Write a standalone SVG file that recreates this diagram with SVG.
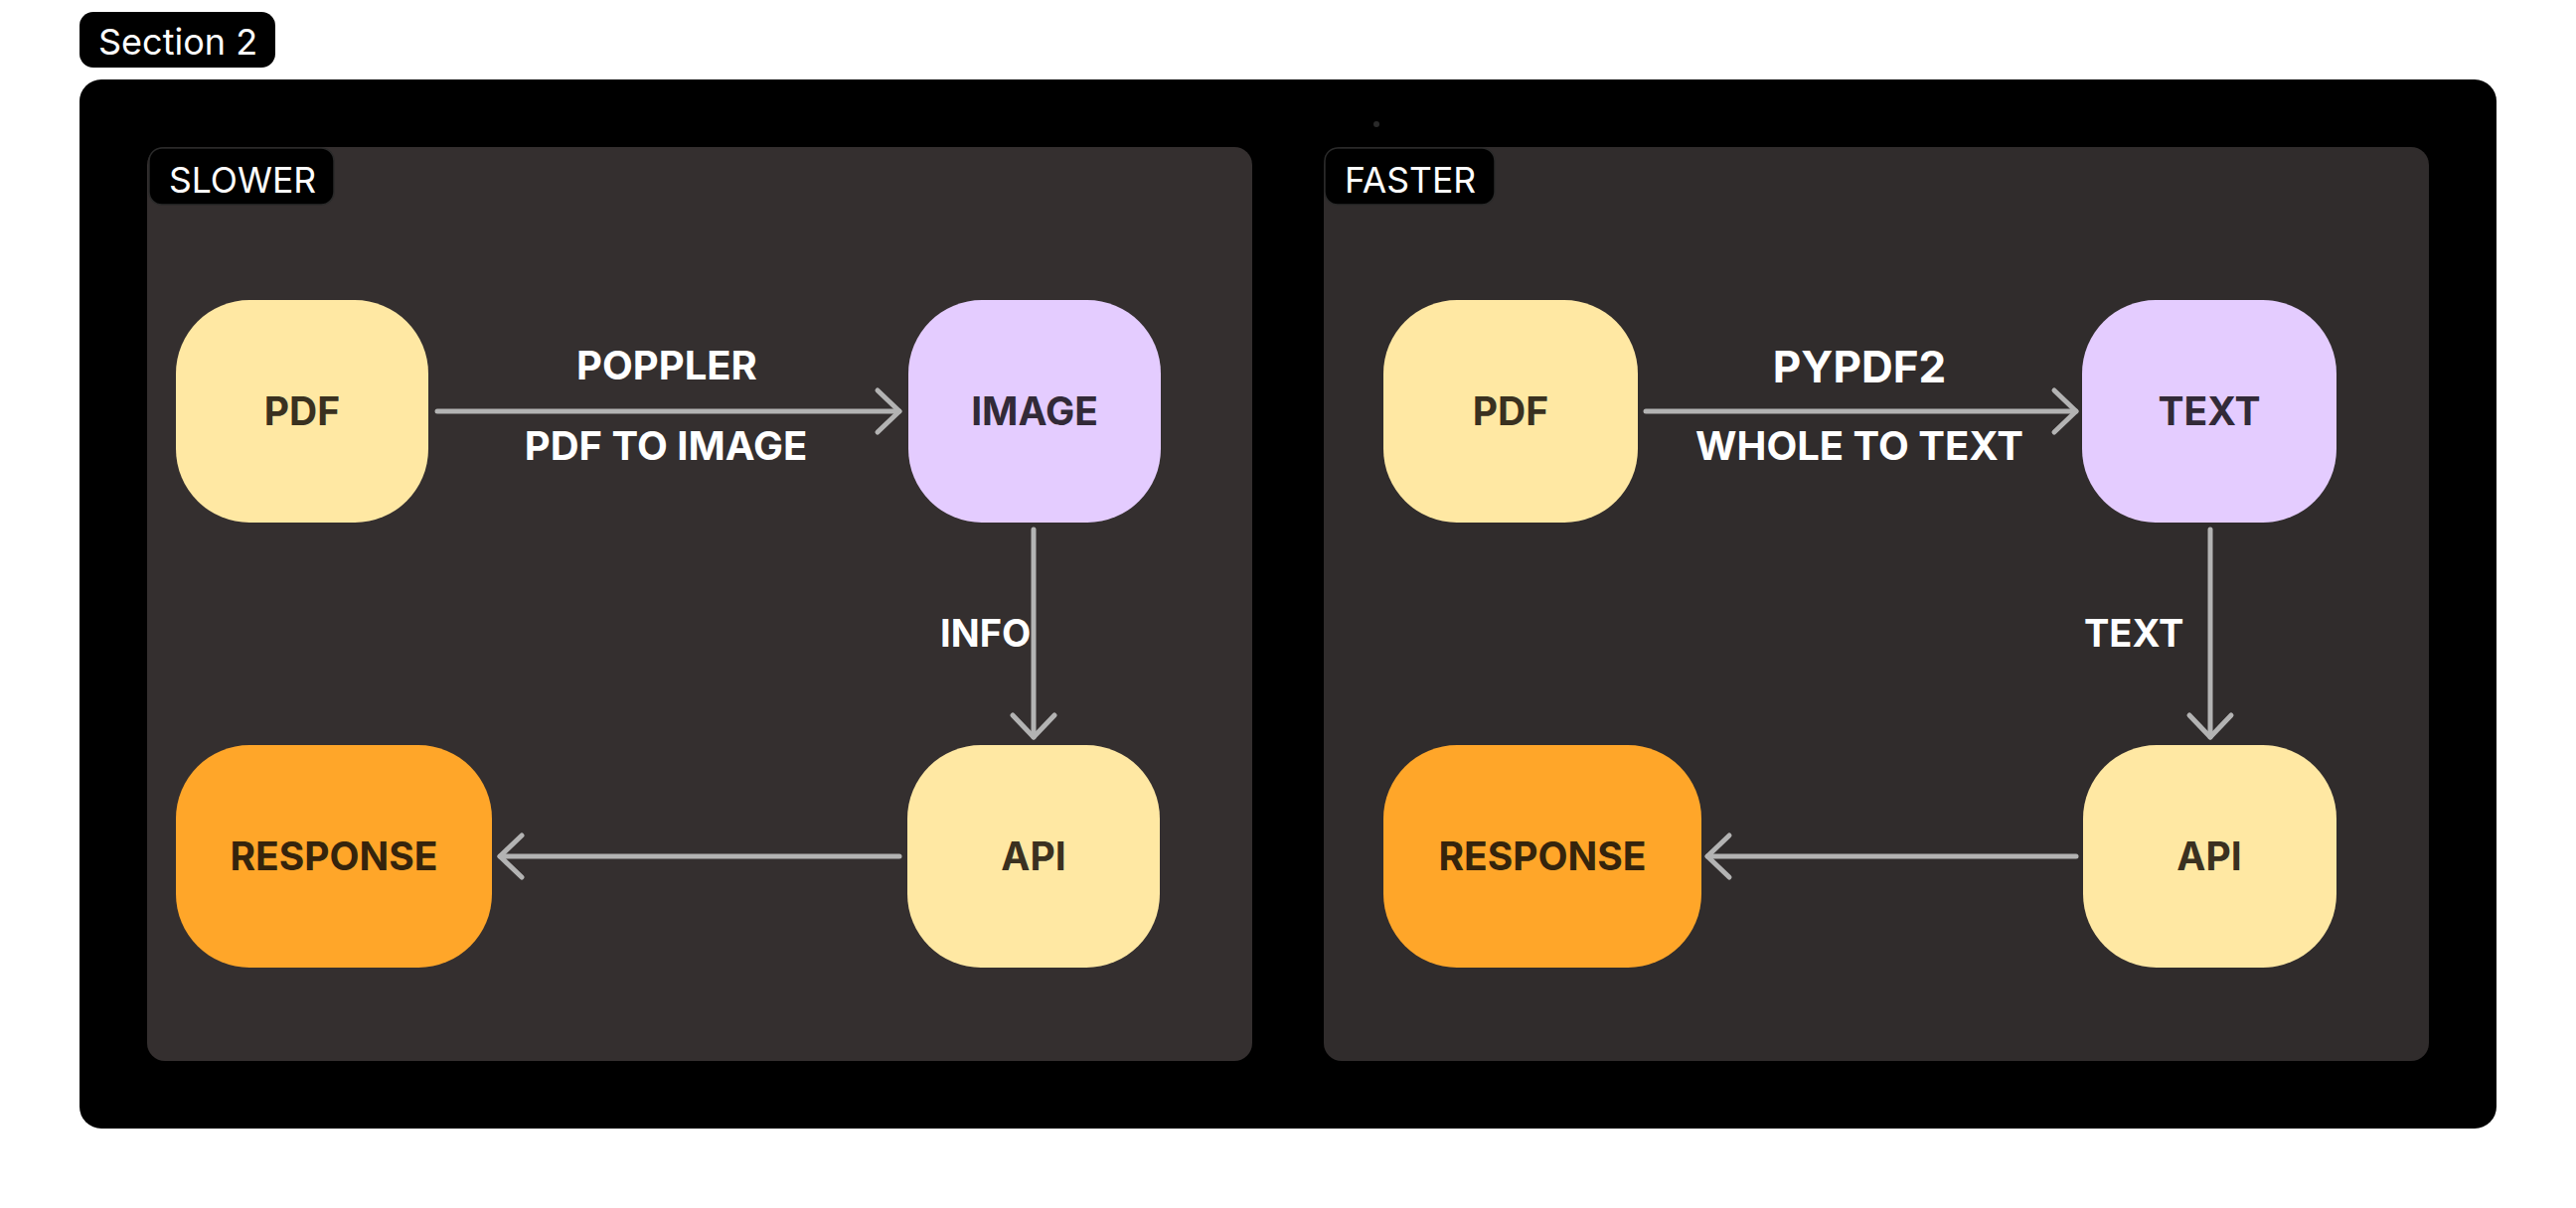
<svg xmlns="http://www.w3.org/2000/svg" width="2592" height="1216" viewBox="0 0 2592 1216">
<defs>
<style>
.tag{fill:#000;stroke:#2a2a2a;stroke-width:1.5}
.tagt{font-family:Inter,'Liberation Sans',sans-serif;font-size:35.5px;fill:#fff}
.node{stroke:none}
.yellow{fill:#ffe8a3}
.purple{fill:#e4ccff}
.orange{fill:#ffa629}
.nt{font-family:Inter,'Liberation Sans',sans-serif;font-weight:700;font-size:39px;text-anchor:middle}
.el{font-family:Inter,'Liberation Sans',sans-serif;font-weight:700;font-size:38px;fill:#fff}
.elw{font-size:40px}
.elb{font-size:44px}
.edge{stroke:#b3b3b3;stroke-width:5;stroke-linecap:round;fill:none}
</style>
<marker id="chev" viewBox="-30 -30 60 60" markerWidth="60" markerHeight="60" markerUnits="userSpaceOnUse" refX="0" refY="0" orient="auto">
<path d="M -22 -21 L 0 0 L -22 21" fill="none" stroke="#b3b3b3" stroke-width="5" stroke-linecap="round" stroke-linejoin="round"/>
</marker>
</defs>
<rect x="0" y="0" width="2592" height="1216" fill="#fff"/>
<g id="section">
<rect x="80" y="12" width="197" height="56" rx="14" fill="#000"/>
<text x="99" y="55" font-family="Inter,'Liberation Sans',sans-serif" font-size="36" fill="#fff">Section 2</text>
<rect x="80" y="80" width="2432" height="1056" rx="22" fill="#000"/>
<circle cx="1385" cy="125" r="3" fill="#2a2a2a"/>
</g>
<g id="panel-slower">
<rect x="148" y="148" width="1112" height="920" rx="18" fill="#342f2f"/>
<rect class="tag" x="150" y="149" width="186" height="57" rx="13"/>
<text class="tagt" x="170" y="194">SLOWER</text>
</g>
<g id="panel-faster">
<rect x="1332" y="148" width="1112" height="920" rx="18" fill="#302c2c"/>
<rect class="tag" x="1333" y="149" width="171" height="57" rx="13"/>
<text class="tagt" x="1353" y="194">FASTER</text>
</g>
<g id="connectors">
<line class="edge" x1="440" y1="414" x2="905" y2="414" marker-end="url(#chev)"/>
<line class="edge" x1="1040" y1="533" x2="1040" y2="742" marker-end="url(#chev)"/>
<line class="edge" x1="905" y1="862" x2="503" y2="862" marker-end="url(#chev)"/>
<line class="edge" x1="1656" y1="414" x2="2089" y2="414" marker-end="url(#chev)"/>
<line class="edge" x1="2224" y1="533" x2="2224" y2="742" marker-end="url(#chev)"/>
<line class="edge" x1="2089" y1="862" x2="1718" y2="862" marker-end="url(#chev)"/>
<text class="el elw" x="671" y="382" text-anchor="middle">POPPLER</text>
<text class="el elw" x="670" y="463" text-anchor="middle">PDF TO IMAGE</text>
<text class="el" x="946" y="651">INFO</text>
<text class="el elb" x="1871" y="385" text-anchor="middle">PYPDF2</text>
<text class="el elw" x="1871" y="463" text-anchor="middle">WHOLE TO TEXT</text>
<text class="el" x="2097" y="651">TEXT</text>
</g>
<g id="node-pdf-1">
<rect class="node yellow" x="177" y="302" width="254" height="224" rx="74"/>
<text class="nt" x="304" y="428" fill="#3a3120">PDF</text>
</g>
<g id="node-image">
<rect class="node purple" x="914" y="302" width="254" height="224" rx="74"/>
<text class="nt" x="1041" y="428" fill="#322a38">IMAGE</text>
</g>
<g id="node-api-1">
<rect class="node yellow" x="913" y="750" width="254" height="224" rx="74"/>
<text class="nt" x="1040" y="876" fill="#3a3120">API</text>
</g>
<g id="node-response-1">
<rect class="node orange" x="177" y="750" width="318" height="224" rx="74"/>
<text class="nt" x="336" y="876" fill="#35240c">RESPONSE</text>
</g>
<g id="node-pdf-2">
<rect class="node yellow" x="1392" y="302" width="256" height="224" rx="74"/>
<text class="nt" x="1520" y="428" fill="#3a3120">PDF</text>
</g>
<g id="node-text">
<rect class="node purple" x="2095" y="302" width="256" height="224" rx="74"/>
<text class="nt" x="2223" y="428" fill="#322a38">TEXT</text>
</g>
<g id="node-api-2">
<rect class="node yellow" x="2096" y="750" width="255" height="224" rx="74"/>
<text class="nt" x="2223" y="876" fill="#3a3120">API</text>
</g>
<g id="node-response-2">
<rect class="node orange" x="1392" y="750" width="320" height="224" rx="74"/>
<text class="nt" x="1552" y="876" fill="#35240c">RESPONSE</text>
</g>
</svg>
